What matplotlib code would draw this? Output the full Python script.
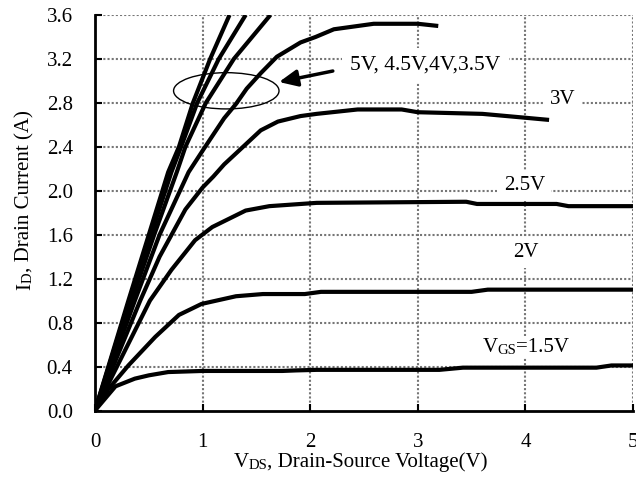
import matplotlib
matplotlib.use("Agg")
import matplotlib.pyplot as plt
from matplotlib.patches import Ellipse

plt.rcParams["font.family"] = ["Liberation Serif", "DejaVu Serif"]

# -------------------------------
# Data (VDS in V, ID in A)
# -------------------------------
vds_5v = [0, 0.31, 0.5, 0.68, 0.78, 0.91, 1.07, 1.25]
id_5v = [0, 1.0, 1.6, 2.17, 2.4, 2.8, 3.2, 3.6]

vds_45v = [0, 0.32, 0.52, 0.71, 0.80, 0.95, 1.15, 1.40]
id_45v = [0, 1.0, 1.6, 2.17, 2.4, 2.8, 3.2, 3.6]

vds_4v = [0, 0.34, 0.55, 0.76, 0.84, 1.03, 1.29, 1.63]
id_4v = [0, 1.0, 1.6, 2.17, 2.4, 2.8, 3.2, 3.6]

vds_35v = [0, 0.37, 0.6, 0.87, 1.01, 1.2, 1.31, 1.41, 1.54, 1.69, 1.91, 2.05, 2.22,
           2.59, 3.0, 3.19]
id_35v = [0, 1.0, 1.6, 2.17, 2.38, 2.66, 2.79, 2.93, 3.07, 3.22, 3.35, 3.4, 3.47,
          3.52, 3.52, 3.5]

vds_3v = [0, 0.42, 0.6, 0.84, 1.0, 1.1, 1.2, 1.31, 1.54, 1.7, 1.91, 2.06, 2.44,
          2.85, 3.0, 3.6, 3.94, 4.22]
id_3v = [0, 1.0, 1.4, 1.83, 2.03, 2.13, 2.24, 2.34, 2.55, 2.63, 2.68, 2.7, 2.74,
         2.74, 2.715, 2.7, 2.67, 2.645]

vds_25v = [0, 0.51, 0.71, 0.93, 1.09, 1.4, 1.62, 2.06, 3.45, 3.55, 4.29, 4.4, 5.0]
id_25v = [0, 1.0, 1.28, 1.55, 1.67, 1.82, 1.86, 1.89, 1.9, 1.88, 1.88, 1.86, 1.86]

vds_2v = [0, 0.12, 0.31, 0.56, 0.78, 0.99, 1.31, 1.56, 1.95, 2.1, 3.5, 3.65, 5.0]
id_2v = [0, 0.19, 0.41, 0.67, 0.87, 0.97, 1.04, 1.06, 1.06, 1.08, 1.08, 1.1, 1.1]

vds_15v = [0, 0.19, 0.37, 0.5, 0.68, 1.0, 1.74, 1.87, 2.06, 3.2, 3.42, 4.66, 4.8, 5.0]
id_15v = [0, 0.22, 0.29, 0.32, 0.35, 0.36, 0.36, 0.365, 0.37, 0.37, 0.39, 0.39, 0.41, 0.41]

x_ticks = [0, 1, 2, 3, 4, 5]
y_ticks = [0.0, 0.4, 0.8, 1.2, 1.6, 2.0, 2.4, 2.8, 3.2, 3.6]

FS = 15
GRID_COLOR = "#767676"
GRID_STYLE = (0, (1.0, 1.0))


def chain_text(ax, pieces, x, y, coords, rotation=0):
    """Write text pieces of different sizes one after another on a baseline."""
    first_text, first_size = pieces[0]
    t = ax.text(x, y, first_text, fontsize=first_size, transform=coords,
                rotation=rotation, ha="left" if rotation == 0 else "right",
                va="bottom")
    artists = [t]
    for txt, size in pieces[1:]:
        if rotation == 0:
            t = ax.annotate(txt, xy=(1, 0), xycoords=t, fontsize=size,
                            ha="left", va="bottom", annotation_clip=False)
        else:
            t = ax.annotate(txt, xy=(1, 1), xycoords=t, fontsize=size,
                            rotation=rotation, ha="right", va="bottom",
                            annotation_clip=False)
        artists.append(t)
    return artists


def main():
    fig = plt.figure(figsize=(6.36, 4.79), dpi=100)
    ax = fig.add_axes([0.1494, 0.143, 0.8459, 0.8257])

    # dotted grid drawn as plain lines so it sits under the curves
    for xv in x_ticks[1:]:
        ax.axvline(xv, color=GRID_COLOR, lw=1.5, ls=GRID_STYLE, zorder=1,
                   snap=True)
    for yv in y_ticks[1:]:
        ax.axhline(yv, color=GRID_COLOR, lw=1.5, ls=GRID_STYLE, zorder=1,
                   snap=True)

    lw = 3.0
    for v, i in [(vds_5v, id_5v), (vds_45v, id_45v), (vds_4v, id_4v),
                 (vds_35v, id_35v), (vds_3v, id_3v), (vds_25v, id_25v),
                 (vds_2v, id_2v), (vds_15v, id_15v)]:
        ax.plot(v, i, color="black", lw=lw, solid_capstyle="butt",
                solid_joinstyle="round", zorder=3)

    ax.set_xlim(0, 5)
    ax.set_ylim(0, 3.6)
    ax.set_xticks(x_ticks)
    ax.set_yticks(y_ticks)
    ax.set_yticklabels([f"{v:.1f}" for v in y_ticks])
    ax.tick_params(direction="in", length=5, width=1.5, labelsize=FS, pad=16)

    for side in ["left", "bottom"]:
        ax.spines[side].set_linewidth(2.0)
        ax.spines[side].set_zorder(4)
    for side in ["top", "right"]:
        ax.spines[side].set_visible(False)

    # curve labels with white boxes cutting the grid
    box = dict(facecolor="white", edgecolor="none", pad=4.5)
    ax.text(3.07, 3.14, "5V, 4.5V,4V,3.5V", fontsize=FS + 0.5, ha="center",
            va="center", bbox=dict(facecolor="white", edgecolor="none", pad=6),
            zorder=5)
    ax.text(4.35, 2.83, "3V", fontsize=FS, ha="center", va="center",
            bbox=box, zorder=5)
    ax.text(3.99, 2.05, "2.5V", fontsize=FS, ha="center", va="center",
            bbox=box, zorder=5)
    ax.text(4.0, 1.44, "2V", fontsize=FS, ha="center", va="center",
            bbox=box, zorder=5)

    vgs = chain_text(ax, [("V", FS), ("GS", 10.5), ("=1.5V", FS)],
                     3.6, 0.49, ax.transData)
    for t in vgs:
        t.set_bbox(dict(facecolor="white", edgecolor="none", pad=0.8))
        t.set_zorder(5)

    # ellipse around the top four curves, with an arrow pointing at it
    ax.add_patch(Ellipse((1.22, 2.91), 0.98, 0.33, fill=False,
                         edgecolor="black", lw=1.0, zorder=4))
    ax.annotate("", xy=(1.71, 2.99), xytext=(2.21, 3.09),
                arrowprops=dict(arrowstyle="-|>,head_length=1.1,head_width=0.5",
                                color="black", lw=2.5, shrinkA=0, shrinkB=0),
                zorder=5)

    # axis titles with small-caps style subscripts
    chain_text(ax, [("V", FS), ("DS", 10.5), (", Drain-Source Voltage(V)", FS)],
               0.257, -0.155, ax.transAxes)
    chain_text(ax, [("I", FS), ("D", 10.5), (", Drain Current (A)", FS)],
               -0.112, 0.305, ax.transAxes, rotation=90)

    fig.savefig("out.png", dpi=100)


if __name__ == "__main__":
    main()
